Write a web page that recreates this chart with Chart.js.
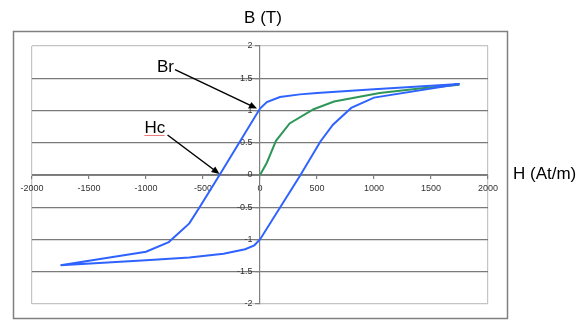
<!DOCTYPE html>
<html>
<head>
<meta charset="utf-8">
<script src="https://cdn.jsdelivr.net/npm/chart.js@4"></script>
<style>
    body { margin: 0; background: #fff; }
    #wrap { width: 586px; height: 329px; }
</style>
</head>
<body>
<div id="wrap"><canvas id="bhChart" width="586" height="329"></canvas></div>
<script>
// Hysteresis loop
const upperH = [1750, 1000, 500, 350, 175, 60, 0, -355, -530, -620, -800, -1000, -1750];
const upperB = [1.41, 1.33, 1.27, 1.25, 1.21, 1.13, 1.03, 0, -0.50, -0.75, -1.04, -1.19, -1.40];
const lowerH = [-1750, -1000, -620, -320, -130, -50, 0, 355, 530, 640, 800, 1000, 1750];
const lowerB = [-1.40, -1.32, -1.28, -1.22, -1.15, -1.09, -1.00, 0, 0.52, 0.78, 1.04, 1.20, 1.41];

// Initial magnetization curve
const initH = [0, 60, 140, 260, 470, 650, 1050, 1400, 1750];
const initB = [0, 0.19, 0.53, 0.80, 1.02, 1.14, 1.27, 1.34, 1.40];

// Axis ticks
const hTicks = [-2000, -1500, -1000, -500, 0, 500, 1000, 1500, 2000];
const bTicks = [-2, -1.5, -1, -0.5, 0, 0.5, 1, 1.5, 2];

const FONT = "'Liberation Sans', Arial, sans-serif";
const BLUE = '#2f63ff';
const GREEN = '#2e9659';

const loopPts = upperH.map((h, i) => ({ x: h, y: upperB[i] }))
    .concat(lowerH.map((h, i) => ({ x: h, y: lowerB[i] })));
const initPts = initH.map((h, i) => ({ x: h, y: initB[i] }));

function drawArrow(ctx, x1, y1, x2, y2) {
    const ang = Math.atan2(y2 - y1, x2 - x1);
    ctx.beginPath();
    ctx.moveTo(x1, y1);
    ctx.lineTo(x2 - 5 * Math.cos(ang), y2 - 5 * Math.sin(ang));
    ctx.stroke();
    ctx.beginPath();
    ctx.moveTo(x2, y2);
    ctx.lineTo(x2 - 8 * Math.cos(ang) + 3.5 * Math.sin(ang), y2 - 8 * Math.sin(ang) - 3.5 * Math.cos(ang));
    ctx.lineTo(x2 - 8 * Math.cos(ang) - 3.5 * Math.sin(ang), y2 - 8 * Math.sin(ang) + 3.5 * Math.cos(ang));
    ctx.closePath();
    ctx.fill();
}

// outer frame, axis titles and Br / Hc callouts
const decorations = {
    id: 'decorations',
    beforeDraw(chart) {
        const ctx = chart.ctx;
        ctx.save();
        ctx.fillStyle = '#fff';
        ctx.fillRect(0, 0, chart.width, chart.height);
        ctx.strokeStyle = '#808080';
        ctx.lineWidth = 1.5;
        ctx.strokeRect(13.5, 31.5, 494, 287);
        ctx.restore();
    },
    afterDatasetsDraw(chart) {
        const ctx = chart.ctx;
        const xs = chart.scales.x, ys = chart.scales.y;
        ctx.save();
        ctx.fillStyle = '#000';
        ctx.font = '17px ' + FONT;
        ctx.textBaseline = 'alphabetic';
        ctx.textAlign = 'center';
        ctx.fillText('B (T)', (xs.getPixelForValue(0) + 3), 23);
        ctx.textAlign = 'left';
        ctx.fillText('H (At/m)', chart.chartArea.right + 25, ys.getPixelForValue(0) + 4);

        // Br: remanence, where the upper branch meets H = 0
        const brX = xs.getPixelForValue(0) - 3;
        const brY = ys.getPixelForValue(upperB[upperH.indexOf(0)]);
        ctx.fillText('Br', brX - 100, brY - 37);
        ctx.strokeStyle = '#000';
        ctx.lineWidth = 1.5;
        drawArrow(ctx, brX - 82, brY - 39, brX, brY);

        // Hc: coercivity, where the upper branch meets B = 0
        const hcX = xs.getPixelForValue(upperH[upperB.indexOf(0)]);
        const hcY = ys.getPixelForValue(0) - 1;
        ctx.fillText('Hc', hcX - 75, hcY - 41);
        drawArrow(ctx, hcX - 52, hcY - 39, hcX, hcY);

        // spell-check squiggle under Hc
        ctx.strokeStyle = '#e03030';
        ctx.lineWidth = 0.8;
        ctx.beginPath();
        for (let i = 0; i <= 20; i++) {
            const px = hcX - 75 + i;
            const py = hcY - 39 + (i % 2 ? 1 : 0);
            if (i === 0) ctx.moveTo(px, py); else ctx.lineTo(px, py);
        }
        ctx.stroke();
        ctx.restore();
    }
};

const bhCtx = document.getElementById('bhChart').getContext('2d');
const bhChart = new Chart(bhCtx, {
    type: 'scatter',
    data: {
        datasets: [{
            label: 'Initial',
            data: initPts,
            showLine: true,
            borderColor: GREEN,
            borderWidth: 2,
            pointRadius: 0,
            order: 2
        }, {
            label: 'Loop',
            data: loopPts,
            showLine: true,
            borderColor: BLUE,
            borderWidth: 2,
            pointRadius: 0,
            order: 1
        }]
    },
    options: {
        responsive: false,
        animation: false,
        layout: {
            padding: { left: 32, right: 98, top: 46, bottom: 25 }
        },
        plugins: {
            legend: { display: false },
            tooltip: { enabled: false }
        },
        scales: {
            x: {
                type: 'linear',
                min: hTicks[0],
                max: hTicks[hTicks.length - 1],
                position: { y: 0 },
                afterBuildTicks: axis => { axis.ticks = hTicks.map(v => ({ value: v })); },
                ticks: {
                    color: '#333',
                    font: { family: FONT, size: 9 },
                    maxRotation: 0,
                    padding: 5,
                    callback: v => String(v)
                },
                grid: {
                    color: c => (c.tick && Math.abs(c.tick.value) === 2000) ? '#c4c4c4' : 'rgba(0,0,0,0)',
                    tickColor: '#808080',
                    tickLength: 3,
                    lineWidth: 1.2
                },
                border: { color: '#808080', width: 1 }
            },
            y: {
                type: 'linear',
                min: bTicks[0],
                max: bTicks[bTicks.length - 1],
                position: { x: 0 },
                afterBuildTicks: axis => { axis.ticks = bTicks.map(v => ({ value: v })); },
                ticks: {
                    color: '#333',
                    font: { family: FONT, size: 9 },
                    padding: 2,
                    // centred axis ignores padding, so push labels left of the line
                    callback: v => String(v) + '   '
                },
                grid: {
                    color: c => (c.tick && Math.abs(c.tick.value) === 2) ? '#c4c4c4' : '#7a7a7a',
                    tickColor: '#808080',
                    tickLength: 4,
                    lineWidth: 1.2
                },
                border: { color: '#808080', width: 1.2 }
            }
        }
    },
    plugins: [decorations]
});
</script>
</body>
</html>
